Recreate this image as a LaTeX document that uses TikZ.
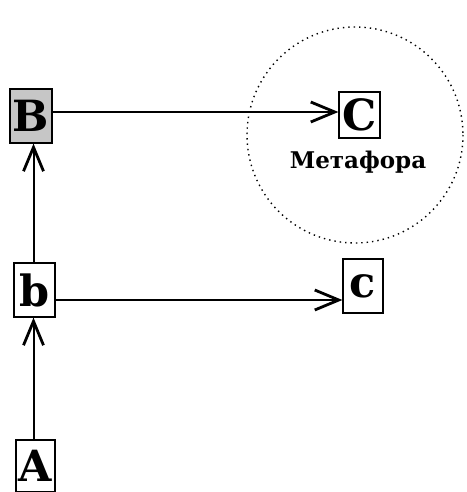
\documentclass[tikz,border=0pt]{standalone}
\usepackage{fontspec}
\setmainfont{DejaVu Serif}
\usetikzlibrary{arrows.meta}
\tikzset{
  letterbox/.style={draw, line width=0.6pt, inner sep=0pt, font=\fontsize{21.5}{23}\selectfont\bfseries},
  arr/.style={line width=1pt, -{Straight Barb[length=12pt,width=10pt,line width=1.4pt]}}
}
\begin{document}
\begin{tikzpicture}[x=0.5pt,y=-0.5pt]
        \useasboundingbox (0,0) rectangle (466,492);
        \draw[dotted, line width=0.7pt] (355,135) circle [radius=108];
        \node[letterbox, fill=gray!45, minimum width=21pt, minimum height=27pt] (B) at (31,116) {B};
        \node[letterbox, minimum width=20.5pt, minimum height=23pt] (C) at (359.5,115) {C};
        \node[font=\fontsize{11.5}{13}\selectfont\bfseries] (met) at (358,162) {Метафора};
        \node[letterbox, minimum width=20.5pt, minimum height=27pt] (b) at (34.5,290) {b};
        \node[letterbox, minimum width=20pt, minimum height=27pt] (c) at (363,286) {c};
        \node[letterbox, minimum width=19.5pt, minimum height=26pt] (A) at (35.5,466) {A};
        \draw[arr] ([yshift=2pt]B.east) -- ([yshift=2pt]B.east -| C.west);
        \draw[arr] ([yshift=-5pt]b.east) -- ([yshift=-5pt]b.east -| c.west);
        \draw[arr] ([xshift=-0.5pt]b.north) -- ([xshift=-0.5pt]b.north |- B.south);
        \draw[arr] ([xshift=-0.5pt]b.south |- A.north) -- ([xshift=-0.5pt]b.south);
    \end{tikzpicture}
\end{document}
